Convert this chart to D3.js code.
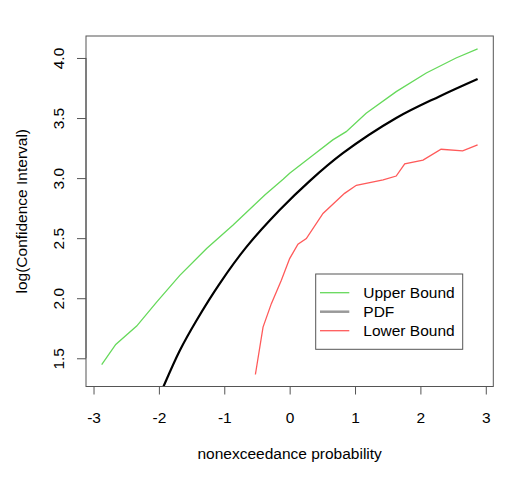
<!DOCTYPE html>
<html>
<head>
<meta charset="utf-8">
<script src="https://cdn.jsdelivr.net/npm/d3@7"></script>
<style>
  html, body { margin: 0; padding: 0; background: #fff; }
  svg { display: block; }
  text { font-family: "Liberation Sans", Arial, Helvetica, sans-serif; fill: #000; }
</style>
</head>
<body>
<div id="chart"></div>
<script>
// ---- data ----
const upperX = [-2.875, -2.66, -2.34, -2.035, -1.68, -1.27, -0.865, -0.38, -0.1, 0, 0.356, 0.66, 0.865, 1.17, 1.63, 2.09, 2.545, 2.875];
const upperY = [1.448, 1.615, 1.768, 1.968, 2.19, 2.414, 2.609, 2.859, 2.99, 3.04, 3.19, 3.318, 3.387, 3.54, 3.72, 3.875, 4.0, 4.075];

const pdfX = [-2.05, -1.934, -1.68, -1.425, -1.07, -0.66, -0.153, 0.305, 0.814, 1.63, 2.29, 2.875];
const pdfY = [1.11, 1.26, 1.565, 1.815, 2.122, 2.427, 2.734, 2.975, 3.207, 3.50, 3.68, 3.825];

const lowerX = [-0.524, -0.407, -0.28, -0.127, 0, 0.127, 0.255, 0.51, 0.84, 1.02, 1.43, 1.63, 1.76, 2.04, 2.316, 2.646, 2.875];
const lowerY = [1.365, 1.76, 1.955, 2.15, 2.33, 2.45, 2.497, 2.706, 2.873, 2.94, 2.985, 3.017, 3.118, 3.15, 3.24, 3.226, 3.276];

const xTicks = [-3, -2, -1, 0, 1, 2, 3];
const yTicks = [1.5, 2.0, 2.5, 3.0, 3.5, 4.0];
const legendLabels = ["Upper Bound", "PDF", "Lower Bound"];

// ---- layout ----
const W = 506, H = 486;
const L = 86, R = 493.3, T = 36, B = 386.5;
const green = "#66D95B", red = "#FF5A5A", axisCol = "#555";

const svg = d3.select("#chart").append("svg").attr("width", W).attr("height", H);

const x = d3.scaleLinear().domain([-3.115, 3.115]).range([L, R]);
const y = d3.scaleLinear().domain([1.265, 4.183]).range([B, T]);

svg.append("clipPath").attr("id", "clip")
  .append("rect").attr("x", L).attr("y", T).attr("width", R - L).attr("height", B - T);

const g = svg.append("g").attr("clip-path", "url(#clip)");

function series(xs, ys) { return xs.map((v, i) => [v, ys[i]]); }

const lin = d3.line().x(d => x(d[0])).y(d => y(d[1]));
const smooth = d3.line().x(d => x(d[0])).y(d => y(d[1])).curve(d3.curveCatmullRom.alpha(0.5));

g.append("path").datum(series(upperX, upperY)).attr("d", lin)
  .attr("fill", "none").attr("stroke", green).attr("stroke-width", 1.3);
g.append("path").datum(series(pdfX, pdfY)).attr("d", smooth)
  .attr("fill", "none").attr("stroke", "#000").attr("stroke-width", 2.2);
g.append("path").datum(series(lowerX, lowerY)).attr("d", lin)
  .attr("fill", "none").attr("stroke", red).attr("stroke-width", 1.3);

// box
svg.append("rect").attr("x", L).attr("y", T).attr("width", R - L).attr("height", B - T)
  .attr("fill", "none").attr("stroke", axisCol).attr("stroke-width", 1);

// x axis
const xAxis = d3.axisBottom(x).tickValues(xTicks).tickSize(8).tickPadding(5)
  .tickFormat(d => d < 0 ? "-" + Math.abs(d) : String(d));
const gx = svg.append("g").attr("transform", `translate(0,${B})`).call(xAxis);
gx.select(".domain").attr("stroke", axisCol)
  .attr("d", `M${x(xTicks[0])},0H${x(xTicks[xTicks.length - 1])}`);
gx.selectAll(".tick line").attr("stroke", axisCol);
gx.selectAll(".tick text").attr("font-size", "15.5px").attr("font-family", "Liberation Sans, Arial, sans-serif")
  .attr("y", null).attr("dy", null).attr("transform", null)
  .attr("dominant-baseline", "auto").attr("y", 36);

// y axis
const yAxis = d3.axisLeft(y).tickValues(yTicks).tickSize(9).tickFormat(d3.format(".1f"));
const gy = svg.append("g").attr("transform", `translate(${L},0)`).call(yAxis);
gy.select(".domain").attr("stroke", axisCol)
  .attr("d", `M0,${y(yTicks[0])}V${y(yTicks[yTicks.length - 1])}`);
gy.selectAll(".tick line").attr("stroke", axisCol);
gy.selectAll(".tick text").attr("font-size", "15.5px").attr("font-family", "Liberation Sans, Arial, sans-serif")
  .attr("x", null).attr("dy", null)
  .attr("text-anchor", "middle")
  .attr("transform", "translate(-22.5,0) rotate(-90)");

// axis titles
svg.append("text").attr("x", (L + R) / 2).attr("y", 458.5).attr("text-anchor", "middle")
  .attr("font-size", "15.5px").text("nonexceedance probability");
svg.append("text").attr("transform", `translate(26.5,${(T + B) / 2}) rotate(-90)`)
  .attr("text-anchor", "middle").attr("font-size", "15.5px").text("log(Confidence Interval)");

// legend
const lg = svg.append("g");
lg.append("rect").attr("x", 315.7).attr("y", 274).attr("width", 147).attr("height", 75.3)
  .attr("fill", "#fff").attr("stroke", axisCol).attr("stroke-width", 1);
const legCols = [green, "#999", red];
const legW = [1.3, 2.5, 1.3];
legendLabels.forEach((lab, i) => {
  const yy = 292.7 + i * 19;
  lg.append("line").attr("x1", 320).attr("x2", 349.3).attr("y1", yy).attr("y2", yy)
    .attr("stroke", legCols[i]).attr("stroke-width", legW[i]);
  lg.append("text").attr("x", 363.3).attr("y", yy + 5.5).attr("font-size", "15.5px").text(lab);
});
</script>
</body>
</html>
